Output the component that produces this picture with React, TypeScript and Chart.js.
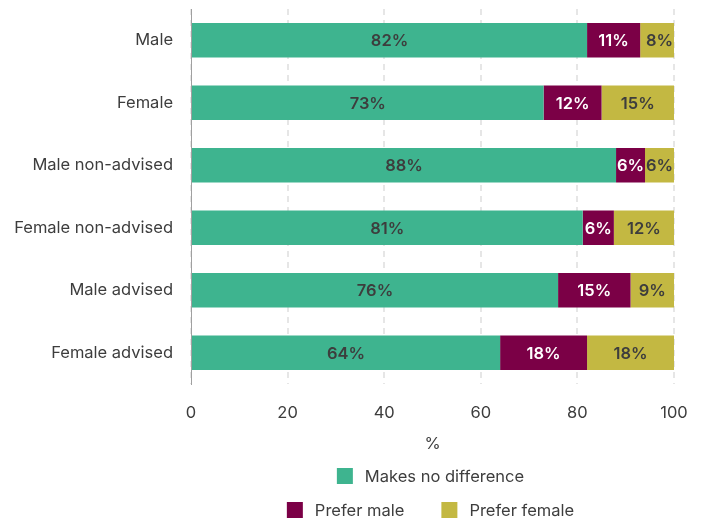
import React, { useEffect, useRef } from "react";
import { Chart, registerables } from "chart.js";

Chart.register(...registerables);

const categories = [
  "Male",
  "Female",
  "Male non-advised",
  "Female non-advised",
  "Male advised",
  "Female advised",
];
const makesNoDifference = [82, 73, 88, 81.1, 76, 64];
const preferMale = [11, 12, 6, 6.45, 15, 18];
const preferFemale = [8, 15, 6, 12.45, 9, 18];
const seriesNames = ["Makes no difference", "Prefer male", "Prefer female"];
const xTicks = [0, 20, 40, 60, 80, 100];

const GREEN = "#3eb48f";
const MAROON = "#7b0046";
const OLIVE = "#c3b842";
const TEXT = "#3d3d3d";
const FONT = "Inter, 'DejaVu Sans', sans-serif";

const labelColors = [TEXT, "#ffffff", TEXT];

const valueLabelPlugin = {
  id: "valueLabels",
  afterDatasetsDraw(chart: any) {
    const ctx = chart.ctx;
    ctx.save();
    ctx.font = `600 16.5px ${FONT}`;
    ctx.textAlign = "center";
    ctx.textBaseline = "middle";
    chart.data.datasets.forEach((ds: any, di: number) => {
      const meta = chart.getDatasetMeta(di);
      meta.data.forEach((el: any, i: number) => {
        const { x, y, base } = el.getProps(["x", "y", "base"], true);
        ctx.fillStyle = labelColors[di];
        ctx.fillText(`${Math.round(ds.data[i])}%`, (x + base) / 2, y + 1);
      });
    });
    ctx.restore();
  },
};

const legendRows = [[0], [1, 2]];

const customLegendPlugin = {
  id: "customLegend",
  afterDraw(chart: any) {
    const ctx = chart.ctx;
    const box = 16;
    const boxGap = 12;
    const itemGap = 37;
    const rowYs = [468, 502];
    const centerX = (chart.chartArea.left + chart.chartArea.right) / 2 - 2;
    ctx.save();
    ctx.font = `400 16.5px ${FONT}`;
    ctx.textBaseline = "middle";
    ctx.textAlign = "left";
    legendRows.forEach((row, r) => {
      const widths = row.map(
        (di) => box + boxGap + ctx.measureText(chart.data.datasets[di].label).width
      );
      const total = widths.reduce((a, b) => a + b, 0) + itemGap * (row.length - 1);
      let x = centerX - total / 2;
      const y = rowYs[r];
      row.forEach((di, k) => {
        const ds = chart.data.datasets[di];
        ctx.fillStyle = ds.backgroundColor;
        ctx.fillRect(x, y - box / 2, box, box);
        ctx.fillStyle = TEXT;
        ctx.fillText(ds.label, x + box + boxGap, y + 1);
        x += widths[k] + itemGap;
      });
    });
    ctx.restore();
  },
};

export default function App() {
  const canvasRef = useRef<HTMLCanvasElement | null>(null);

  useEffect(() => {
    if (!canvasRef.current) return;
    const chart = new Chart(canvasRef.current, {
      type: "bar",
      data: {
        labels: categories,
        datasets: [
          { label: seriesNames[0], data: makesNoDifference, backgroundColor: GREEN },
          { label: seriesNames[1], data: preferMale, backgroundColor: MAROON },
          { label: seriesNames[2], data: preferFemale, backgroundColor: OLIVE },
        ],
      },
      options: {
        indexAxis: "y",
        responsive: false,
        animation: false,
        layout: { padding: { top: 1, right: 20, bottom: 64, left: 0 } },
        datasets: {
          bar: { barPercentage: 0.555, categoryPercentage: 1, borderWidth: 0 },
        },
        plugins: {
          legend: { display: false },
          tooltip: { enabled: false },
        },
        scales: {
          x: {
            stacked: true,
            min: 0,
            max: 100,
            afterBuildTicks: (scale: any) => {
              scale.ticks = xTicks.map((v) => ({ value: v }));
            },
            afterFit: (scale: any) => {
              scale.height = 72;
              scale.paddingLeft = 0;
              scale.paddingRight = 0;
            },
            grid: {
              color: "#e6e6e6",
              lineWidth: 2,
              drawTicks: false,
            },
            border: { display: false, dash: [6, 5] },
            ticks: {
              color: TEXT,
              font: { family: FONT, size: 16.5 },
              padding: 19,
            },
            title: {
              display: true,
              text: "%",
              color: TEXT,
              font: { family: FONT, size: 16.5 },
              padding: { top: 0, bottom: 2 },
            },
          },
          y: {
            stacked: true,
            afterFit: (scale: any) => {
              scale.width = 183;
              scale.paddingTop = 0;
              scale.paddingBottom = 0;
            },
            grid: { display: false },
            border: { display: true, color: "#a0a0a0", width: 1 },
            ticks: {
              color: TEXT,
              font: { family: FONT, size: 16.5 },
              padding: 10,
            },
          },
        },
      },
      plugins: [valueLabelPlugin, customLegendPlugin],
    });
    return () => chart.destroy();
  }, []);

  return (
    <div style={{ width: 686, height: 512 }}>
      <canvas ref={canvasRef} width={686} height={512} style={{ display: "block" }} />
    </div>
  );
}
